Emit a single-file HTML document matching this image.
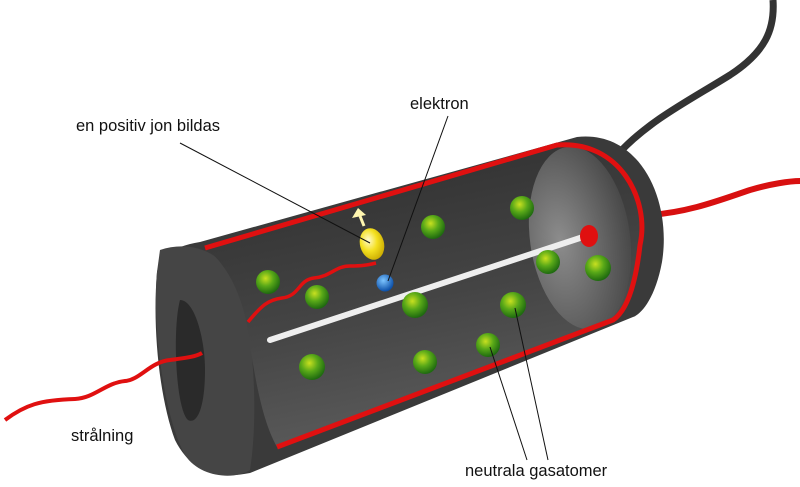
<!DOCTYPE html>
<html><head><style>
html,body{margin:0;padding:0;background:#fff;width:800px;height:487px;overflow:hidden}
text{font-family:"Liberation Sans",sans-serif;font-size:16.5px;fill:#111}
</style></head><body>
<svg width="800" height="487" viewBox="0 0 800 487" xmlns="http://www.w3.org/2000/svg">
<defs>
<radialGradient id="g" cx="40%" cy="35%" r="65%"><stop offset="0" stop-color="#c8e020"/><stop offset="0.5" stop-color="#58a818"/><stop offset="1" stop-color="#1f6a10"/></radialGradient>
<radialGradient id="b" cx="40%" cy="35%" r="65%"><stop offset="0" stop-color="#7cc4ff"/><stop offset="1" stop-color="#0b4fa8"/></radialGradient>
<radialGradient id="y" cx="40%" cy="35%" r="70%"><stop offset="0" stop-color="#fffbd0"/><stop offset="0.5" stop-color="#f4e020"/><stop offset="1" stop-color="#c8a800"/></radialGradient>
<linearGradient id="in" x1="0" y1="0" x2="0.3" y2="1"><stop offset="0" stop-color="#2c2c2c"/><stop offset="0.6" stop-color="#444"/><stop offset="1" stop-color="#5a5a5a"/></linearGradient>
<radialGradient id="disc" cx="30%" cy="50%" r="70%"><stop offset="0" stop-color="#9a9a9a"/><stop offset="1" stop-color="#4a4a4a"/></radialGradient>
</defs>
<path d="M620 152 C650 120 690 100 730 75 C765 52 775 30 773 0" stroke="#333" stroke-width="7" fill="none"/>
<path d="M650 215 C690 212 720 200 750 190 C770 184 790 181 800 181" stroke="#d81010" stroke-width="6" fill="none"/>
<path d="M200 242 L577 137 C640 130 672 200 662 262 C655 300 640 315 633 317 L250 473 C215 480 190 470 175 440 C160 400 152 330 157 272 C160 255 175 246 200 242 Z" fill="#3a3a3a"/>
<path d="M160 250 C190 240 225 250 240 290 C255 340 258 420 250 470 C235 480 200 478 185 455 C165 420 152 330 157 272 Z" fill="#454545"/>
<path d="M180 300 C195 300 205 340 205 370 C205 405 198 425 188 420 C176 410 172 330 180 300 Z" fill="#2a2a2a"/>
<path d="M205 248 L557 145 C620 140 650 200 640 245 C635 290 625 312 613 320 L277 447 C262 420 255 380 247 325 C240 290 225 262 205 248 Z" fill="url(#in)"/>
<ellipse cx="580" cy="238" rx="50" ry="92" fill="url(#disc)" opacity="0.85" transform="rotate(-8 580 238)"/>
<path d="M205 248 L557 145 C620 140 650 200 640 245 C635 290 625 312 613 320 L277 447" fill="none" stroke="#e01010" stroke-width="5" stroke-linejoin="round"/>
<line x1="270" y1="340" x2="583" y2="237" stroke="#eee" stroke-width="6" stroke-linecap="round"/>
<ellipse cx="589" cy="236" rx="9" ry="11" fill="#e01010"/>
<g fill="url(#g)">
<circle cx="268" cy="282" r="12"/><circle cx="317" cy="297" r="12"/><circle cx="433" cy="227" r="12"/>
<circle cx="522" cy="208" r="12"/><circle cx="548" cy="262" r="12"/><circle cx="598" cy="268" r="13"/>
<circle cx="415" cy="305" r="13"/><circle cx="513" cy="305" r="13"/><circle cx="488" cy="345" r="12"/>
<circle cx="425" cy="362" r="12"/><circle cx="312" cy="367" r="13"/>
</g>
<path d="M248 322 C262 305 268 300 282 298 C300 296 298 280 314 278 C332 276 335 266 350 266 C362 266 368 265 376 263" stroke="#e01010" stroke-width="3.5" fill="none"/>
<path d="M5 420 C25 405 40 400 75 399 C95 398 105 383 125 381 C140 380 150 362 170 360 C185 358 195 357 202 353" stroke="#e01010" stroke-width="4" fill="none"/>
<ellipse cx="372" cy="244" rx="12" ry="16" fill="url(#y)" transform="rotate(-15 372 244)"/>
<line x1="364" y1="226" x2="360" y2="216" stroke="#fff6b0" stroke-width="3"/>
<polygon points="352,218 358,208 366,215" fill="#fff6b0"/>
<circle cx="385" cy="283" r="8.5" fill="url(#b)"/>
<g stroke="#111" stroke-width="1" fill="none">
<line x1="180" y1="143" x2="370" y2="243"/>
<line x1="448" y1="116" x2="388" y2="281"/>
<line x1="527" y1="460" x2="490" y2="347"/>
<line x1="548" y1="460" x2="515" y2="308"/>
</g>
<text x="76" y="131">en positiv jon bildas</text>
<text x="410" y="109">elektron</text>
<text x="71" y="441">strålning</text>
<text x="465" y="476">neutrala gasatomer</text>
</svg>
</body></html>
